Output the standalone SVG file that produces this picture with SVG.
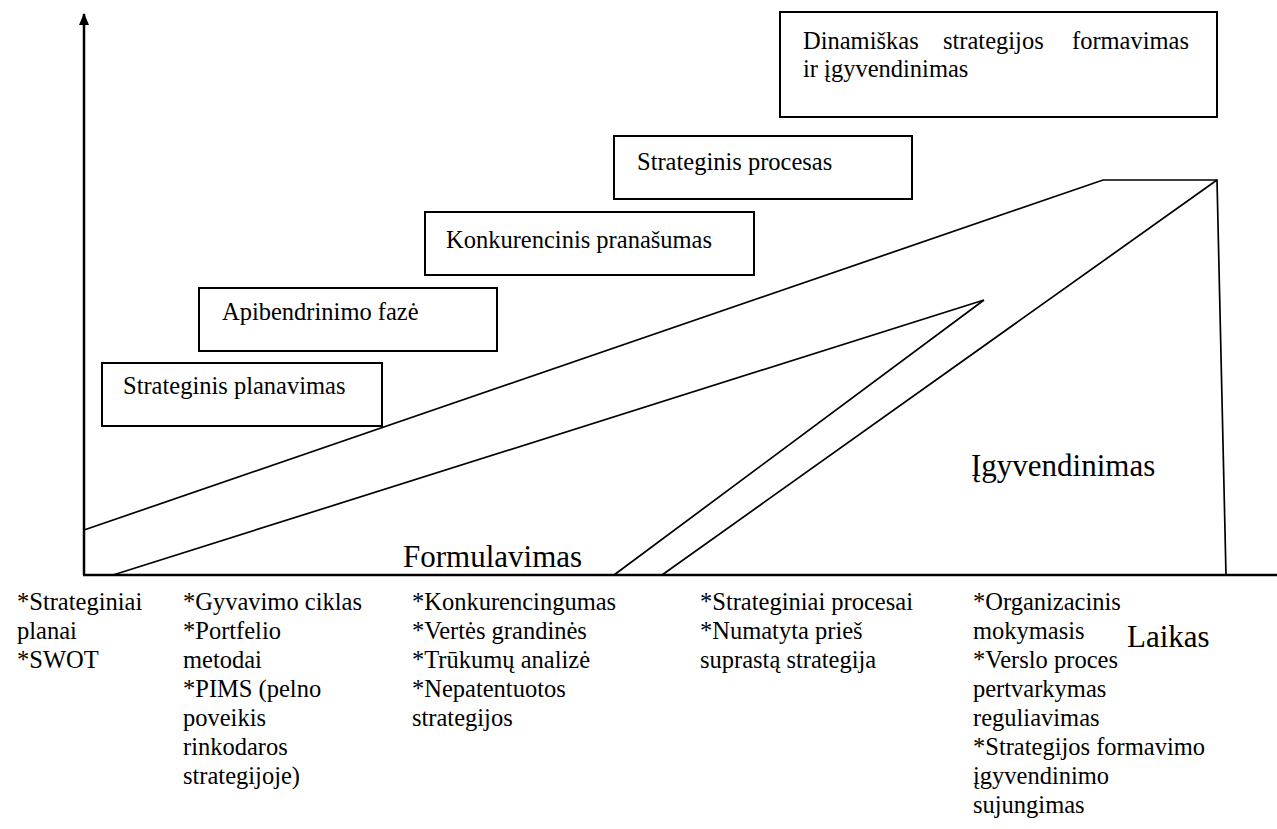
<svg xmlns="http://www.w3.org/2000/svg" width="1277" height="829" viewBox="0 0 1277 829">
  <style>
    .box { fill: #fff; stroke: #000; stroke-width: 2; }
    .ln { fill: none; stroke: #000; stroke-width: 1.7; }
    .axis { fill: none; stroke: #000; stroke-width: 2.5; }
    .lbl { font-family: 'Liberation Serif', 'Times New Roman', serif; font-size: 24.5px; fill: #000; }
    .item { font-family: 'Liberation Serif', 'Times New Roman', serif; font-size: 24.5px; fill: #000; }
    .big { font-family: 'Liberation Serif', 'Times New Roman', serif; font-size: 31px; fill: #000; }
  </style>
  <defs>
    <marker id="arrow" viewBox="0 0 12 10" refX="11" refY="5" markerWidth="12" markerHeight="10" markerUnits="userSpaceOnUse" orient="auto">
      <path d="M0,0 L12,5 L0,10 Z" fill="#000"/>
    </marker>
  </defs>
  <rect width="1277" height="829" fill="#fff"/>

  <!-- axes -->
  <g id="axes">
    <line class="axis" x1="84" y1="575" x2="84" y2="14" marker-end="url(#arrow)"/>
    <line class="axis" x1="83" y1="575" x2="1288" y2="575" marker-end="url(#arrow)"/>
  </g>

  <!-- strategy bands -->
  <g id="connectors">
    <polyline class="ln" points="84,530 1103,180 1217,180 1226,575"/>
    <polyline class="ln" points="113,575 984,300 614,575"/>
    <line class="ln" x1="1217" y1="180" x2="662" y2="575"/>
  </g>

  <!-- stage boxes -->
  <g id="node-planavimas">
    <rect class="box" x="102" y="363" width="280" height="63"/>
    <text class="lbl" x="123" y="394">Strateginis planavimas</text>
  </g>
  <g id="node-apibendrinimas">
    <rect class="box" x="199" y="288" width="298" height="63"/>
    <text class="lbl" x="222" y="320">Apibendrinimo fazė</text>
  </g>
  <g id="node-pranasumas">
    <rect class="box" x="425" y="212" width="329" height="63"/>
    <text class="lbl" x="446" y="248">Konkurencinis pranašumas</text>
  </g>
  <g id="node-procesas">
    <rect class="box" x="614" y="136" width="298" height="63"/>
    <text class="lbl" x="637" y="170">Strateginis procesas</text>
  </g>
  <g id="node-dinamiskas">
    <rect class="box" x="780" y="12" width="437" height="105"/>
    <text class="lbl" y="49"><tspan x="803">Dinamiškas</tspan><tspan x="943">strategijos</tspan><tspan x="1072">formavimas</tspan></text>
    <text class="lbl" x="803" y="77">ir įgyvendinimas</text>
  </g>

  <!-- area labels -->
  <g id="labels">
    <text class="big" x="403" y="567">Formulavimas</text>
    <text class="big" x="971" y="476">Įgyvendinimas</text>
    <text class="big" x="1127" y="647">Laikas</text>
  </g>

  <!-- methods under the time axis -->
  <g id="methods">
    <text class="item" x="17" y="610">*Strateginiai<tspan x="17" dy="29">planai</tspan><tspan x="17" dy="29">*SWOT</tspan></text>
    <text class="item" x="183" y="610">*Gyvavimo ciklas<tspan x="183" dy="29">*Portfelio</tspan><tspan x="183" dy="29">metodai</tspan><tspan x="183" dy="29">*PIMS (pelno</tspan><tspan x="183" dy="29">poveikis</tspan><tspan x="183" dy="29">rinkodaros</tspan><tspan x="183" dy="29">strategijoje)</tspan></text>
    <text class="item" x="412" y="610">*Konkurencingumas<tspan x="412" dy="29">*Vertės grandinės</tspan><tspan x="412" dy="29">*Trūkumų analizė</tspan><tspan x="412" dy="29">*Nepatentuotos</tspan><tspan x="412" dy="29">strategijos</tspan></text>
    <text class="item" x="700" y="610">*Strateginiai procesai<tspan x="700" dy="29">*Numatyta prieš</tspan><tspan x="700" dy="29">suprastą strategija</tspan></text>
    <text class="item" x="973" y="610">*Organizacinis<tspan x="973" dy="29">mokymasis</tspan><tspan x="973" dy="29">*Verslo proces</tspan><tspan x="973" dy="29">pertvarkymas</tspan><tspan x="973" dy="29">reguliavimas</tspan><tspan x="973" dy="29">*Strategijos formavimo</tspan><tspan x="973" dy="29">įgyvendinimo</tspan><tspan x="973" dy="29">sujungimas</tspan></text>
  </g>
</svg>
